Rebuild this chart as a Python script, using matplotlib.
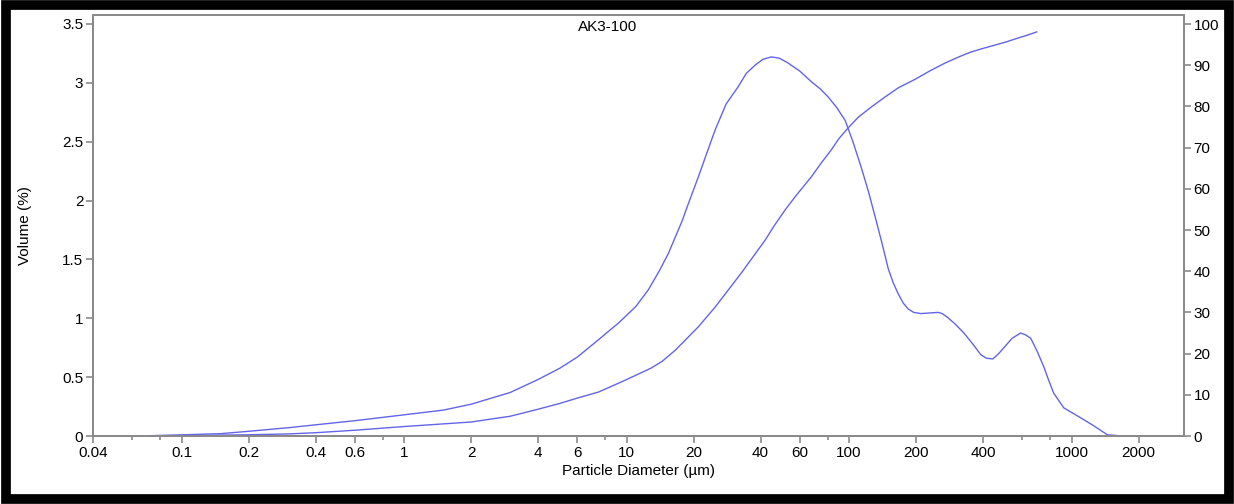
import matplotlib
matplotlib.use("Agg")
import matplotlib.pyplot as plt
from matplotlib.patches import Rectangle
from matplotlib.ticker import FixedLocator, FixedFormatter, NullFormatter

plt.rcParams['font.family'] = ['Liberation Sans', 'DejaVu Sans']

# volume frequency curve (left axis)
freq_d = [0.063, 0.1, 0.15, 0.2, 0.3, 0.4, 0.6, 1, 1.5, 2, 3, 4, 5, 6, 7.5, 8.3, 9.2, 11,
          12.5, 14, 15.4, 17.7, 19, 21, 23, 25, 28, 31.8, 34.5, 37.8, 41, 44.7, 48.5, 53,
          60, 67.6, 74, 80.5, 88, 96, 104, 113, 122, 131, 140, 150, 158, 166, 175, 184,
          195, 210, 230, 251, 262, 276, 300, 328, 360, 391, 415, 443, 470, 496, 540, 590,
          620, 655, 700, 749, 790, 830, 921, 1000, 1097, 1250, 1449, 1694]
freq_v = [0, 0.01, 0.02, 0.04, 0.07, 0.095, 0.13, 0.18, 0.22, 0.27, 0.37, 0.48, 0.575, 0.67,
          0.82, 0.89, 0.96, 1.10, 1.24, 1.40, 1.55, 1.82, 1.98, 2.2, 2.41, 2.6, 2.82, 2.97,
          3.08, 3.15, 3.20, 3.22, 3.21, 3.17, 3.10, 3.01, 2.95, 2.88, 2.79, 2.68, 2.50, 2.29,
          2.08, 1.86, 1.65, 1.42, 1.30, 1.21, 1.13, 1.08, 1.05, 1.04, 1.045, 1.05, 1.04, 1.01,
          0.95, 0.875, 0.78, 0.69, 0.66, 0.655, 0.70, 0.75, 0.83, 0.875, 0.86, 0.83, 0.72,
          0.59, 0.47, 0.365, 0.24, 0.20, 0.155, 0.09, 0.01, 0]

# cumulative curve (right axis)
cum_d = [0.063, 0.1, 0.2, 0.3, 0.4, 0.6, 1, 2, 3, 4, 5, 6, 7.5, 8.5, 9.9, 12.9, 14.5, 16.6,
         21, 25, 32.8, 37, 42, 46, 51.6, 58, 67.6, 75, 83, 90, 99, 110, 126, 145, 166, 198,
         230, 269, 310, 352, 400, 452, 510, 573, 640, 697]
cum_v = [0, 0.1, 0.3, 0.5, 0.8, 1.4, 2.3, 3.4, 4.8, 6.5, 7.9, 9.2, 10.7, 12.0, 13.6, 16.5,
         18.2, 20.9, 26.5, 31.3, 39.6, 43.5, 47.6, 51.0, 54.9, 58.5, 62.9, 66.3, 69.4, 72.2,
         74.8, 77.4, 79.9, 82.3, 84.5, 86.6, 88.6, 90.5, 92.0, 93.2, 94.1, 94.9, 95.7, 96.6,
         97.4, 98.1]

x_major = [0.04, 0.1, 0.2, 0.4, 0.6, 1, 2, 4, 6, 10, 20, 40, 60, 100, 200, 400, 1000, 2000]
x_labels = ['0.04', '0.1', '0.2', '0.4', '0.6', '1', '2', '4', '6', '10', '20', '40', '60',
            '100', '200', '400', '1000', '2000']
x_minor = [0.06, 0.08, 0.8, 8, 80, 600, 800]
y_left = [0, 0.5, 1, 1.5, 2, 2.5, 3, 3.5]
y_left_labels = ['0', '0.5', '1', '1.5', '2', '2.5', '3', '3.5']
y_right = [0, 10, 20, 30, 40, 50, 60, 70, 80, 90, 100]

line_c = '#6464ea'
spine_c = '#8a8a8a'

fig = plt.figure(figsize=(12.34, 5.04), dpi=100)
ax = fig.add_axes([0.0754, 0.1349, 0.8841, 0.8353])
ax2 = ax.twinx()

ax.plot(freq_d, freq_v, color=line_c, lw=1.0)
ax2.plot(cum_d, cum_v, color=line_c, lw=1.0)

ax.set_xscale('log')
ax.set_xlim(0.04, 3200)
ax.set_ylim(0, 3.576)
ax2.set_ylim(0, 102.2)

ax.xaxis.set_major_locator(FixedLocator(x_major))
ax.xaxis.set_major_formatter(FixedFormatter(x_labels))
ax.xaxis.set_minor_locator(FixedLocator(x_minor))
ax.xaxis.set_minor_formatter(NullFormatter())
ax.set_yticks(y_left)
ax.set_yticklabels(y_left_labels)
ax2.set_yticks(y_right)

for a in (ax, ax2):
    for s in a.spines.values():
        s.set_color(spine_c)
        s.set_linewidth(1.4)
    a.tick_params(which='major', color=spine_c, length=5, width=1.2, labelsize=11, pad=2)
    a.tick_params(which='minor', color=spine_c, length=3, width=1.2)

ax.set_xlabel('Particle Diameter (µm)', fontsize=11, labelpad=3)
ax.set_ylabel('Volume (%)', fontsize=11, labelpad=22)
ax.text(0.472, 0.972, 'AK3-100', transform=ax.transAxes, ha='center', va='center', fontsize=11)

# black frame around the picture
fig.patches.append(Rectangle((0.005, 0.009), 0.991, 0.982, transform=fig.transFigure,
                             fill=False, edgecolor='black', lw=7))

fig.savefig('out.png', dpi=100)
